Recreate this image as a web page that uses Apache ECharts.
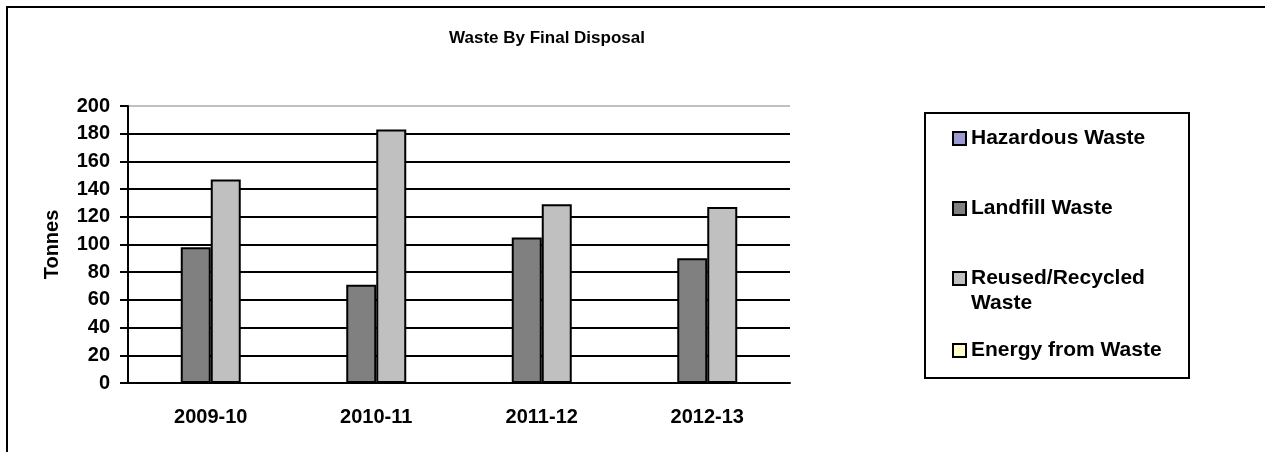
<!DOCTYPE html>
<html>
<head>
<meta charset="utf-8">
<script src="https://cdn.jsdelivr.net/npm/echarts@6/dist/echarts.min.js"></script>
<style>
  * { margin: 0; padding: 0; }
  body { background: #fff; }
  #chart { width: 1265px; height: 452px; }
</style>
</head>
<body>
<div id="chart"></div>
<script>
// data
var years = ['2009-10', '2010-11', '2011-12', '2012-13'];
var hazardous = [0, 0, 0, 0];
var landfill = [98, 71, 105, 90];
var recycled = [147, 183, 129, 127];
var energy = [0, 0, 0, 0];
var yTicks = { min: 0, max: 200, interval: 20 };

var font = "'Liberation Sans', Arial, sans-serif";
var txt = { color: '#000', fontFamily: font, fontWeight: 'bold', fontSize: 20 };

// gridlines black, the top one light gray
var gridColors = [];
for (var i = 0; i < 11; i++) gridColors.push(i === 10 ? '#c0c0c0' : '#000');

function legendAt(name, top, extra) {
  return Object.assign({
    data: [{ name: name, icon: 'rect' }],
    left: 952,
    top: top,
    orient: 'vertical',
    padding: 0,
    itemWidth: 13,
    itemHeight: 13,
    selectedMode: false,
    itemStyle: { borderColor: '#000', borderWidth: 2 },
    textStyle: Object.assign({}, txt, { fontSize: 21, lineHeight: 25 })
  }, extra || {});
}

function barSeries(name, data, color) {
  return {
    name: name,
    type: 'bar',
    data: data,
    barWidth: 30,
    barGap: '0%',
    itemStyle: { color: color, borderColor: '#000', borderWidth: 2 }
  };
}

var chart = echarts.init(document.getElementById('chart'));
chart.setOption({
  animation: false,
  title: {
    text: 'Waste By Final Disposal',
    left: 542,
    top: 25,
    textAlign: 'center',
    textStyle: { color: '#000', fontFamily: font, fontWeight: 'bold', fontSize: 17 }
  },
  legend: [
    legendAt('Hazardous Waste', 126),
    legendAt('Landfill Waste', 196),
    // blank first line so the swatch sits beside "Reused/Recycled"
    legendAt('Reused/Recycled Waste', 241, {
      formatter: function () { return '\u00a0\nReused/Recycled\nWaste'; }
    }),
    legendAt('Energy from Waste', 338)
  ],
  graphic: [
    { type: 'rect', shape: { x: 7, y: 7, width: 1300, height: 500 },
      style: { fill: 'none', stroke: '#000', lineWidth: 2 }, silent: true },
    { type: 'rect', shape: { x: 925, y: 113, width: 264, height: 265 },
      style: { fill: 'none', stroke: '#000', lineWidth: 2 }, silent: true }
  ],
  grid: { left: 128, right: 475, top: 106, bottom: 69 },
  xAxis: {
    type: 'category',
    data: years,
    axisLine: { lineStyle: { color: '#000', width: 2 } },
    axisTick: { length: 8, lineStyle: { color: '#000', width: 2 } },
    axisLabel: Object.assign({ margin: 24 }, txt)
  },
  yAxis: {
    type: 'value',
    min: yTicks.min,
    max: yTicks.max,
    interval: yTicks.interval,
    name: 'Tonnes',
    nameLocation: 'middle',
    nameGap: 66,
    nameTextStyle: txt,
    axisLine: { show: true, lineStyle: { color: '#000', width: 2 } },
    axisTick: { show: true, length: 8, lineStyle: { color: '#000', width: 2 } },
    axisLabel: Object.assign({ margin: 18 }, txt),
    splitLine: { lineStyle: { color: gridColors, width: 2 } }
  },
  series: [
    barSeries('Hazardous Waste', hazardous, '#9b9bd2'),
    barSeries('Landfill Waste', landfill, '#808080'),
    barSeries('Reused/Recycled Waste', recycled, '#c0c0c0'),
    barSeries('Energy from Waste', energy, '#ffffcc')
  ]
});
</script>
</body>
</html>
